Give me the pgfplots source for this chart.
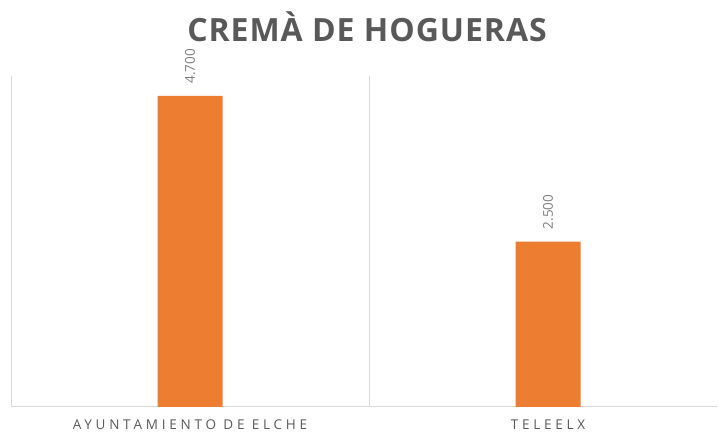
\documentclass[border=0pt]{standalone}
\usepackage{fontspec}
\setmainfont{Open Sans}
\newfontfamily\titlefont[LetterSpace=3]{Open Sans}
\newfontfamily\catfont[LetterSpace=28]{Open Sans}
\usepackage{pgfplots}
\pgfplotsset{compat=1.18}
\definecolor{barorange}{HTML}{ED7D31}
\definecolor{gridgray}{HTML}{D9D9D9}
\definecolor{titlegray}{HTML}{595959}
\definecolor{labelgray}{HTML}{7F7F7F}

\begin{document}
\begin{tikzpicture}
  \path[use as bounding box] (0,0) rectangle (718pt,434pt);
  \begin{axis}[
    at={(11pt,27pt)}, anchor=south west,
    scale only axis,
    width=706pt, height=331pt,
    xmin=-0.5, xmax=1.472,
    ymin=0, ymax=5000,
    axis x line*=bottom,
    axis y line=none,
    x axis line style={gridgray, line width=1pt, -},
    xtick={0,1},
    xticklabels={AYUNTAMIENTO DE ELCHE, TELEELX},
    xticklabel style={font=\catfont\fontsize{13.5}{16}\selectfont, text=titlegray,
      yshift=-12pt, inner ysep=1pt},
    major tick length=0pt,
    minor tick length=0pt,
    minor xtick={-0.5,0.5},
    xminorgrids,
    minor grid style={gridgray, line width=1pt},
    ybar,
    bar width=65pt,
    point meta=explicit symbolic,
    nodes near coords,
    every node near coord/.append style={font=\fontsize{13.5}{16}\selectfont, text=labelgray,
      rotate=90, anchor=west, inner ysep=0pt, inner xsep=12pt},
  ]
  \addplot[fill=barorange, draw=none] coordinates {
    (0,4700) [4.700]
    (1,2500) [2.500]
  };
  \end{axis}
  \node[anchor=base, font=\titlefont\bfseries\fontsize{32}{36}\selectfont, text=titlegray]
    at (367pt,392pt) {CREMÀ DE HOGUERAS};
\end{tikzpicture}
\end{document}
